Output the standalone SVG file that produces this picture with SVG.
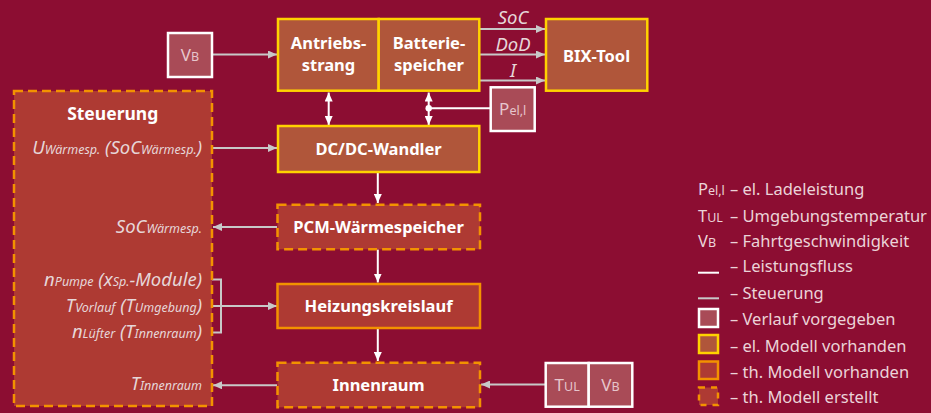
<svg xmlns="http://www.w3.org/2000/svg" width="931" height="413" viewBox="0 0 931 413">
<defs>
<style>
.y{fill:#B0563A;stroke:#FFD200;stroke-width:2.5}
.o{fill:#AE3A33;stroke:#F39200;stroke-width:2.5}
.od{fill:#AE3A33;stroke:#F39200;stroke-width:2.5;stroke-dasharray:9 5}
.g{fill:#A94B57;stroke:#FFFFFF;stroke-width:2.5}
.lbl{font-family:"Noto Sans",sans-serif;font-weight:bold;font-size:16.5px;fill:#FFFFFF;text-anchor:middle}
.it{font-family:"Noto Sans",sans-serif;font-style:italic;font-size:18.5px;fill:#E6D6D8}
.gt{font-family:"Noto Sans",sans-serif;font-size:17px;fill:#E6C6CC;text-anchor:middle}
.s{font-size:12.5px}
.lg{font-family:"Noto Sans",sans-serif;font-size:16.5px;fill:#EBD3D8}
.w{stroke:#FFFFFF;stroke-width:2;fill:none}
.gr{stroke:#C8C8C8;stroke-width:2;fill:none}
</style>
<marker id="aw" markerUnits="userSpaceOnUse" markerWidth="9" markerHeight="8" refX="9" refY="4" orient="auto-start-reverse"><path d="M0,0 L9,4 L0,8 z" fill="#FFFFFF"/></marker>
<marker id="ag" markerUnits="userSpaceOnUse" markerWidth="9" markerHeight="8" refX="9" refY="4" orient="auto-start-reverse"><path d="M0,0 L9,4 L0,8 z" fill="#C8C8C8"/></marker>
</defs>
<rect width="931" height="413" fill="#8C0D32"/>

<g id="connectors">
<line class="gr" x1="212" y1="54.5" x2="277" y2="54.5" marker-end="url(#ag)"/>
<line class="gr" x1="480" y1="29" x2="545" y2="29" marker-end="url(#ag)"/>
<line class="gr" x1="480" y1="54.5" x2="545" y2="54.5" marker-end="url(#ag)"/>
<line class="gr" x1="480" y1="80.5" x2="545" y2="80.5" marker-end="url(#ag)"/>
<line class="w" x1="328.7" y1="92.5" x2="328.7" y2="125" marker-start="url(#aw)" marker-end="url(#aw)"/>
<line class="w" x1="428.7" y1="92.5" x2="428.7" y2="125" marker-start="url(#aw)" marker-end="url(#aw)"/>
<line class="w" x1="428.7" y1="108.3" x2="490" y2="108.3"/>
<circle cx="428.7" cy="108.3" r="3.2" fill="#FFFFFF"/>
<line class="gr" x1="212" y1="148" x2="277" y2="148" marker-end="url(#ag)"/>
<line class="gr" x1="277" y1="227" x2="213" y2="227" marker-end="url(#ag)"/>
<path class="gr" d="M212,279.5 H221 V332.5 H212"/>
<line class="gr" x1="212" y1="306" x2="277" y2="306" marker-end="url(#ag)"/>
<line class="gr" x1="277" y1="385.3" x2="213" y2="385.3" marker-end="url(#ag)"/>
<line class="gr" x1="545" y1="384.5" x2="481" y2="384.5" marker-end="url(#ag)"/>
<line class="w" x1="377.8" y1="172" x2="377.8" y2="203" marker-end="url(#aw)"/>
<line class="w" x1="377.8" y1="249.5" x2="377.8" y2="282.5" marker-end="url(#aw)"/>
<line class="w" x1="377.8" y1="328.5" x2="377.8" y2="361" marker-end="url(#aw)"/>
</g>

<g id="labels-flow">
<text class="it" x="513" y="24" text-anchor="middle">SoC</text>
<text class="it" x="513" y="51" text-anchor="middle">DoD</text>
<text class="it" x="513" y="77" text-anchor="middle">I</text>
</g>

<g id="vb-top"><rect class="g" x="168" y="33" width="44" height="44"/><text class="gt" x="190" y="61">V<tspan class="s">B</tspan></text></g>

<g id="antriebsstrang"><rect class="y" x="278" y="19" width="100.7" height="71.7"/><text class="lbl" x="328.5" y="49">Antriebs-</text><text class="lbl" x="328.5" y="71">strang</text></g>
<g id="batteriespeicher"><rect class="y" x="378.7" y="19" width="100.6" height="71.7"/><text class="lbl" x="429" y="49">Batterie-</text><text class="lbl" x="429" y="71">speicher</text></g>
<g id="bix-tool"><rect class="y" x="546" y="19" width="101.3" height="71.7"/><text class="lbl" x="596.6" y="62">BIX-Tool</text></g>

<g id="pel"><rect class="g" x="490.7" y="87.3" width="44" height="43.7"/><text class="gt" x="512.7" y="114.5">P<tspan class="s">el,l</tspan></text></g>

<g id="dcdc"><rect class="y" x="278" y="126" width="201.3" height="46"/><text class="lbl" x="378.6" y="155">DC/DC-Wandler</text></g>

<g id="steuerung"><rect class="od" x="14" y="91" width="198" height="315"/>
<text class="lbl" x="112.7" y="120" style="font-size:17.5px">Steuerung</text>
<text class="it" x="202" y="154" text-anchor="end">U<tspan class="s">Wärmesp.</tspan> (SoC<tspan class="s">Wärmesp.</tspan>)</text>
<text class="it" x="202" y="233.3" text-anchor="end">SoC<tspan class="s">Wärmesp.</tspan></text>
<text class="it" x="202" y="285.7" text-anchor="end">n<tspan class="s">Pumpe</tspan> (x<tspan class="s">Sp.</tspan>-Module)</text>
<text class="it" x="202" y="312.3" text-anchor="end">T<tspan class="s">Vorlauf</tspan> (T<tspan class="s">Umgebung</tspan>)</text>
<text class="it" x="202" y="337.7" text-anchor="end">n<tspan class="s">Lüfter</tspan> (T<tspan class="s">Innenraum</tspan>)</text>
<text class="it" x="202" y="390" text-anchor="end">T<tspan class="s">Innenraum</tspan></text>
</g>

<g id="pcm"><rect class="od" x="277.5" y="204.7" width="202.5" height="44.6"/><text class="lbl" x="378.6" y="232.7">PCM-Wärmespeicher</text></g>
<g id="heizung"><rect class="o" x="277.5" y="284" width="202.5" height="44"/><text class="lbl" x="378.6" y="311.7">Heizungskreislauf</text></g>
<g id="innenraum"><rect class="od" x="277.5" y="362.7" width="202.5" height="44.6"/><text class="lbl" x="378.6" y="390.7">Innenraum</text></g>

<g id="tul"><rect class="g" x="545.7" y="363" width="43" height="43.7"/><text class="gt" x="567.2" y="390.7">T<tspan class="s">UL</tspan></text></g>
<g id="vb-bottom"><rect class="g" x="588.7" y="363" width="43.6" height="43.7"/><text class="gt" x="610.5" y="390.7">V<tspan class="s">B</tspan></text></g>

<g id="legend">
<text class="lg" x="698" y="195">P<tspan font-size="12.5">el,l</tspan></text><text class="lg" x="730" y="195">– el. Ladeleistung</text>
<text class="lg" x="698" y="221.7">T<tspan font-size="12.5">UL</tspan></text><text class="lg" x="730" y="221.7">– Umgebungstemperatur</text>
<text class="lg" x="698" y="247.3">V<tspan font-size="12.5">B</tspan></text><text class="lg" x="730" y="247.3">– Fahrtgeschwindigkeit</text>
<line class="w" x1="698" y1="272.7" x2="719" y2="272.7"/><text class="lg" x="730" y="272">– Leistungsfluss</text>
<line class="gr" x1="698" y1="298.3" x2="719" y2="298.3"/><text class="lg" x="730" y="299.3">– Steuerung</text>
<rect class="g" x="699" y="309" width="19" height="18"/><text class="lg" x="730" y="325.3">– Verlauf vorgegeben</text>
<rect class="y" x="699" y="335" width="19" height="18"/><text class="lg" x="730" y="351.7">– el. Modell vorhanden</text>
<rect class="o" x="699" y="361.5" width="19" height="17.5"/><text class="lg" x="730" y="378.3">– th. Modell vorhanden</text>
<rect class="od" x="699" y="387.5" width="19" height="17.5" style="stroke-dasharray:6 6"/><text class="lg" x="730" y="403.3">– th. Modell erstellt</text>
</g>
</svg>
